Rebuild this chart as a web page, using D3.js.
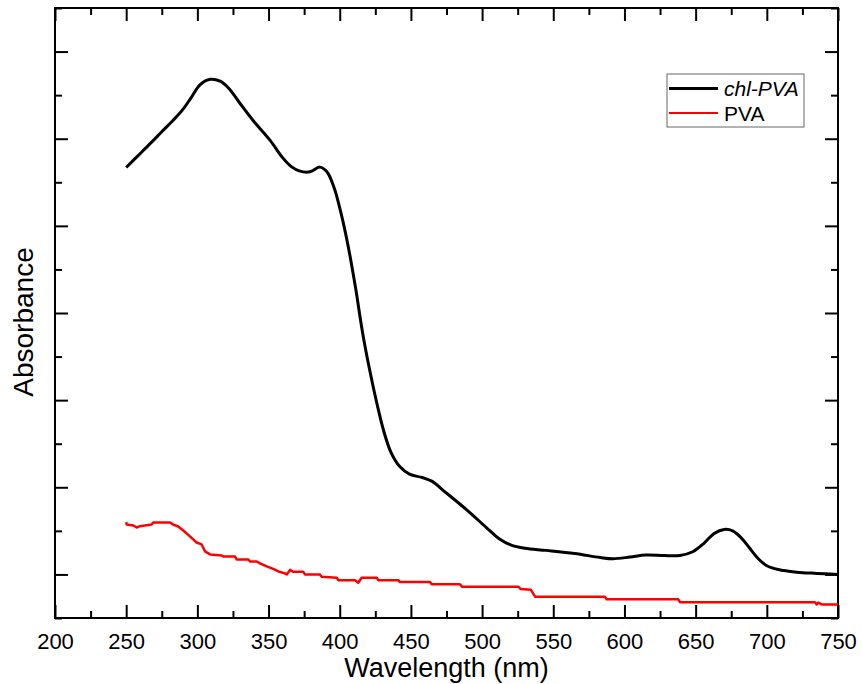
<!DOCTYPE html>
<html>
<head>
<meta charset="utf-8">
<script src="https://cdn.jsdelivr.net/npm/d3@7"></script>
<style>
  body { margin: 0; background: #fff; }
  svg { display: block; font-family: "Liberation Sans", Arial, sans-serif; }
</style>
</head>
<body>
<svg id="chart" width="862" height="684"></svg>
<script>
// chl-PVA absorbance (arbitrary units)
const chlWavelength = [250, 258, 267, 275, 283, 290, 296, 302, 309, 316, 322, 330, 339, 351, 360, 366, 372, 379, 386, 391, 396, 401, 406, 411, 416, 421, 426, 431, 436, 442, 449, 458, 465, 472, 489, 503, 512, 520, 530, 545, 565, 583, 592, 604, 615, 628, 639, 648, 656, 663, 670, 676, 682, 688, 694, 700, 708, 721, 735, 750];
const chlAbs = [2.335, 2.40, 2.473, 2.54, 2.606, 2.67, 2.74, 2.81, 2.841, 2.83, 2.79, 2.702, 2.606, 2.492, 2.39, 2.34, 2.314, 2.31, 2.337, 2.31, 2.22, 2.07, 1.88, 1.65, 1.39, 1.174, 0.985, 0.82, 0.70, 0.62, 0.575, 0.556, 0.534, 0.487, 0.372, 0.269, 0.205, 0.17, 0.15, 0.138, 0.12, 0.097, 0.09, 0.10, 0.111, 0.108, 0.109, 0.13, 0.18, 0.235, 0.258, 0.25, 0.21, 0.15, 0.09, 0.05, 0.028, 0.013, 0.006, 0.0];

// PVA absorbance (step-like trace)
const pvaWavelength = [250, 250.4, 255, 257.4, 259.7, 267.9, 269, 280.8, 283.1, 286.6, 290.1, 294.8, 299.5, 303, 305.4, 308.9, 317.1, 318.2, 326.4, 327.6, 335.8, 337, 341.7, 344, 348.7, 353.3, 356.9, 361.6, 362.8, 365.1, 367.4, 374.4, 375.6, 386.1, 387.3, 397.9, 399, 410.7, 413, 415.4, 426, 427.1, 441.1, 442.3, 463.4, 464.6, 484.5, 485.9, 525.4, 527, 534.3, 537.2, 586.3, 587.5, 637.8, 639, 733.8, 735, 736.1, 738.5, 750];
const pvaAbs = [0.3, 0.286, 0.281, 0.269, 0.277, 0.286, 0.298, 0.298, 0.286, 0.275, 0.252, 0.218, 0.183, 0.172, 0.132, 0.115, 0.109, 0.103, 0.103, 0.086, 0.086, 0.074, 0.074, 0.063, 0.046, 0.032, 0.017, 0.006, 0.0, 0.026, 0.015, 0.015, 0.0, 0.0, -0.014, -0.019, -0.033, -0.033, -0.048, -0.019, -0.019, -0.033, -0.033, -0.044, -0.044, -0.057, -0.057, -0.07, -0.07, -0.083, -0.088, -0.128, -0.128, -0.143, -0.143, -0.159, -0.159, -0.172, -0.162, -0.172, -0.172];

const xMajorTicks = [200, 250, 300, 350, 400, 450, 500, 550, 600, 650, 700, 750];
const xMinorTicks = [225, 275, 325, 375, 425, 475, 525, 575, 625, 675, 725];
const yMajorTicks = [0, 0.5, 1, 1.5, 2, 2.5, 3];
const yMinorTicks = [-0.25, 0.25, 0.75, 1.25, 1.75, 2.25, 2.75, 3.25];

const seriesNames = ['chl-PVA', 'PVA'];
const seriesColors = ['#000000', '#ff0000'];

const margin = { top: 8, right: 24, bottom: 66, left: 55 };
const width = 862 - margin.left - margin.right;
const height = 684 - margin.top - margin.bottom;

const svg = d3.select('#chart');
const g = svg.append('g').attr('transform', `translate(${margin.left},${margin.top})`);

const x = d3.scaleLinear().domain([200, 750]).range([0, width]);
const y = d3.scaleLinear().domain([-0.25, 3.25]).range([height, 0]);

function styleAxis(sel) {
  sel.select('.domain').remove();
  sel.selectAll('line').attr('stroke', '#000').attr('stroke-width', 2);
  sel.selectAll('text').attr('fill', '#000');
}

// bottom axis, labelled
g.append('g')
  .attr('transform', `translate(0,${height})`)
  .call(d3.axisBottom(x).tickValues(xMajorTicks).tickSize(-13).tickPadding(15).tickFormat(d3.format('d')))
  .call(styleAxis)
  .call((s) => s.selectAll('text').attr('font-size', '22px'));
g.append('g')
  .attr('transform', `translate(0,${height})`)
  .call(d3.axisBottom(x).tickValues(xMinorTicks).tickSize(-7).tickFormat(''))
  .call(styleAxis);

// top axis
g.append('g')
  .call(d3.axisTop(x).tickValues(xMajorTicks).tickSize(-13).tickFormat(''))
  .call(styleAxis);
g.append('g')
  .call(d3.axisTop(x).tickValues(xMinorTicks).tickSize(-7).tickFormat(''))
  .call(styleAxis);

// left and right axes, no labels
[[d3.axisLeft, 0], [d3.axisRight, width]].forEach(([axisFn, pos]) => {
  g.append('g')
    .attr('transform', `translate(${pos},0)`)
    .call(axisFn(y).tickValues(yMajorTicks).tickSize(-13).tickFormat(''))
    .call(styleAxis);
  g.append('g')
    .attr('transform', `translate(${pos},0)`)
    .call(axisFn(y).tickValues(yMinorTicks).tickSize(-7).tickFormat(''))
    .call(styleAxis);
});

// frame
g.append('rect')
  .attr('width', width)
  .attr('height', height)
  .attr('fill', 'none')
  .attr('stroke', '#000')
  .attr('stroke-width', 2);

// curves
const chlData = chlWavelength.map((w, i) => [w, chlAbs[i]]);
const pvaData = pvaWavelength.map((w, i) => [w, pvaAbs[i]]);

g.append('path')
  .datum(pvaData)
  .attr('fill', 'none')
  .attr('stroke', seriesColors[1])
  .attr('stroke-width', 2.5)
  .attr('stroke-linejoin', 'round')
  .attr('d', d3.line().x((d) => x(d[0])).y((d) => y(d[1])));

g.append('path')
  .datum(chlData)
  .attr('fill', 'none')
  .attr('stroke', seriesColors[0])
  .attr('stroke-width', 3)
  .attr('stroke-linejoin', 'round')
  .attr('d', d3.line().curve(d3.curveCatmullRom.alpha(0.5)).x((d) => x(d[0])).y((d) => y(d[1])));

// axis titles
svg.append('text')
  .attr('x', margin.left + width / 2)
  .attr('y', 677)
  .attr('text-anchor', 'middle')
  .attr('font-size', '27px')
  .text('Wavelength (nm)');

svg.append('text')
  .attr('transform', 'translate(33,322) rotate(-90)')
  .attr('text-anchor', 'middle')
  .attr('font-size', '28px')
  .text('Absorbance');

// legend
const legend = svg.append('g').attr('transform', 'translate(667,74)');
legend.append('rect')
  .attr('width', 137)
  .attr('height', 53)
  .attr('fill', '#fff')
  .attr('stroke', '#666')
  .attr('stroke-width', 1);
seriesNames.forEach((name, i) => {
  const yy = 14.5 + i * 24.5;
  legend.append('line')
    .attr('x1', 2).attr('x2', 51)
    .attr('y1', yy).attr('y2', yy)
    .attr('stroke', seriesColors[i])
    .attr('stroke-width', i === 0 ? 3 : 2);
  legend.append('text')
    .attr('x', 57)
    .attr('y', yy + 7.5)
    .attr('font-size', '21px')
    .attr('font-style', i === 0 ? 'italic' : 'normal')
    .text(name);
});
</script>
</body>
</html>
